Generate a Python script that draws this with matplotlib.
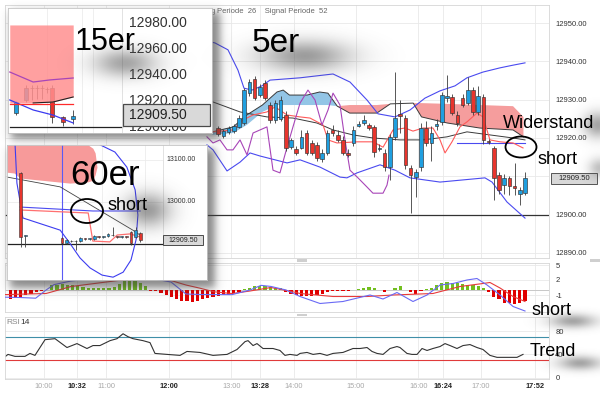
import numpy as np
import matplotlib
matplotlib.use("Agg")
import matplotlib.pyplot as plt
import matplotlib.transforms as mtrans
from matplotlib.patches import Ellipse, Rectangle

plt.rcParams['font.family'] = ['Liberation Sans', 'DejaVu Sans']

# ======================= DATA =======================
# time axis: minutes after 10:00
tick_min = [0, 32, 60, 120, 180, 208, 240, 300, 360, 384, 420, 472]
tick_lbl = ['10:00', '10:32', '11:00', '12:00', '13:00', '13:28', '14:00',
            '15:00', '16:00', '16:24', '17:00', '17:52']
tick_bold = [False, True, False, True, False, True, False, False, False, True, False, True]

# 5-minute candles (main chart), first visible candle centre = 12:47.5
c5_first = 167.5
c5_open = [12922.5, 12920.5, 12921.5, 12921.8, 12922.9, 12923.9, 12931.7, 12935.4, 12931.2, 12934.3,
           12928.6, 12924.7, 12925.0, 12926.0, 12917.6, 12917.2, 12917.4, 12921.3, 12918.7, 12918.2,
           12914.5, 12916.1, 12922.1, 12920.8, 12919.5, 12916.1, 12918.7, 12923.2, 12924.0, 12923.4,
           12922.9, 12917.1, 12916.1, 12912.4, 12920.3, 12926.3, 12925.2, 12912.2, 12909.8, 12912.4,
           12922.6, 12918.7, 12923.1, 12924.2, 12930.5, 12930.7, 12926.0, 12930.4, 12929.1, 12932.5,
           12926.8, 12930.7, 12919.2, 12917.4, 12910.3, 12907.7, 12909.6, 12907.4, 12905.3, 12905.7]
c5_high = [12923.2, 12922.3, 12923.0, 12923.6, 12926.0, 12933.0, 12935.5, 12936.2, 12934.0, 12935.0,
           12929.5, 12930.0, 12931.0, 12927.0, 12920.0, 12918.0, 12922.0, 12922.0, 12919.5, 12919.0,
           12917.0, 12922.0, 12923.5, 12922.0, 12920.5, 12917.0, 12923.0, 12924.5, 12926.0, 12924.0,
           12923.5, 12918.5, 12917.0, 12921.0, 12937.2, 12929.9, 12926.0, 12913.0, 12912.0, 12924.0,
           12924.5, 12923.0, 12925.0, 12932.0, 12936.4, 12931.5, 12927.0, 12931.5, 12935.9, 12933.3,
           12933.5, 12931.5, 12919.8, 12918.0, 12911.0, 12910.5, 12910.2, 12913.5, 12907.2, 12911.2]
c5_low = [12920.5, 12920.0, 12921.0, 12921.3, 12922.5, 12923.5, 12931.0, 12930.0, 12930.8, 12930.0,
          12924.0, 12924.0, 12924.5, 12916.5, 12917.0, 12915.5, 12917.0, 12915.5, 12915.5, 12914.0,
          12913.8, 12915.5, 12920.5, 12919.0, 12915.5, 12915.0, 12918.0, 12922.8, 12923.5, 12922.0,
          12915.0, 12916.5, 12911.5, 12909.0, 12919.5, 12921.3, 12912.0, 12900.4, 12904.6, 12911.5,
          12918.0, 12914.0, 12922.0, 12923.5, 12929.5, 12926.0, 12923.0, 12928.0, 12928.5, 12926.0,
          12926.0, 12918.5, 12918.5, 12903.8, 12905.5, 12905.5, 12905.0, 12905.0, 12902.5, 12905.0]
c5_close = [12921.0, 12921.8, 12922.5, 12923.0, 12925.2, 12932.5, 12934.6, 12930.4, 12933.3, 12930.4,
            12924.7, 12929.1, 12929.9, 12917.4, 12919.5, 12916.0, 12920.3, 12916.1, 12916.1, 12914.8,
            12916.1, 12921.3, 12921.3, 12919.5, 12916.1, 12915.6, 12922.1, 12923.6, 12924.7, 12922.6,
            12916.3, 12917.4, 12912.4, 12920.3, 12925.2, 12925.7, 12913.0, 12910.4, 12911.2, 12922.6,
            12918.7, 12921.3, 12923.7, 12931.2, 12930.9, 12926.5, 12923.9, 12928.6, 12932.5, 12926.8,
            12931.0, 12919.5, 12918.9, 12909.6, 12906.4, 12909.6, 12907.4, 12906.9, 12906.4, 12909.5]
last_price = 12909.5

# Bollinger upper / lower (blue), middle line (black)
bbu_t = [156.7, 164.4, 176.9, 186.5, 192.3, 200.0, 209.6, 217.3, 246.2, 277.9, 294.2, 310.6,
         321.2, 337.5, 351.9, 366.3, 380.8, 395.2, 406.7, 422.1, 438.5, 451.0, 462.5]
bbu_p = [12945.3, 12944.8, 12943.0, 12937.7, 12933.0, 12932.5, 12933.6, 12935.1, 12935.7, 12936.7,
         12934.6, 12929.9, 12926.3, 12925.5, 12927.3, 12930.4, 12932.3, 12933.6, 12935.7, 12937.2,
         12938.3, 12939.0, 12939.6]
bbl_t = [156.7, 162.5, 176.0, 188.5, 198.1, 207.7, 233.7, 246.2, 265.4, 284.6, 291.3, 301.0,
         323.1, 337.5, 351.9, 380.8, 424.0, 430.8, 445.2, 462.5]
bbl_p = [12918.2, 12916.9, 12911.4, 12913.7, 12916.1, 12915.3, 12913.5, 12914.3, 12912.4, 12909.8,
         12909.6, 12910.9, 12913.0, 12911.6, 12909.6, 12908.5, 12909.6, 12908.5, 12903.3, 12899.1]
mid_t = [156.7, 162.5, 188.5, 214.4, 239.4, 262.5, 277.9, 297.1, 316.3, 342.3, 364.4, 387.5,
         406.7, 428.8, 451.0, 462.5]
mid_p = [12929.9, 12929.4, 12926.8, 12925.5, 12925.2, 12923.9, 12922.1, 12920.8, 12920.0, 12919.5,
         12919.5, 12920.3, 12921.6, 12920.8, 12920.0, 12919.5]
# red line
red_t = [156.7, 162.5, 181.7, 191.3, 201.0, 214.4, 222.1, 233.7, 246.2, 255.8, 268.3, 273.1,
         281.7, 301.0, 316.3, 326.0, 335.6, 347.1, 354.8, 364.4, 374.0, 380.8, 385.6, 392.3,
         400.0, 406.7, 416.3, 422.1, 428.8, 438.5, 451.0, 460.6]
red_p = [12921.3, 12921.6, 12922.1, 12924.7, 12926.0, 12926.8, 12928.1, 12926.0, 12925.5, 12925.2,
         12923.4, 12919.5, 12918.7, 12919.0, 12919.0, 12917.6, 12922.1, 12922.6, 12921.8, 12922.6,
         12922.6, 12919.5, 12916.1, 12919.0, 12922.9, 12924.2, 12926.5, 12925.5, 12919.5, 12919.0,
         12918.7, 12917.4]
# blue level line
kij_t = [397.1, 462.5]
kij_p = [12918.7, 12918.7]
# purple line
pur_t = [156.7, 162.5, 169.2, 176.0, 181.7, 188.5, 195.2, 201.0, 207.7, 214.4, 220.2, 226.9,
         233.7, 239.4, 246.2, 253.8, 260.6, 267.3, 273.1, 277.9, 284.6, 289.4, 294.2, 301.9,
         310.6, 316.3, 326.0, 329.8, 331.7]
pur_p = [12920.3, 12918.7, 12919.5, 12916.9, 12916.9, 12919.5, 12915.6, 12921.3, 12922.1, 12922.9,
         12911.6, 12910.9, 12917.6, 12922.9, 12929.1, 12932.5, 12929.9, 12923.4, 12927.3, 12931.7,
         12928.6, 12919.5, 12911.6, 12909.6, 12907.2, 12905.6, 12905.6, 12907.7, 12910.3]
# cloud spans
span_t = [162, 182, 195, 210, 224, 230, 236, 253, 265, 273, 282, 294, 320, 333, 355, 363, 388, 419, 451, 461]
spanA = [12921.6, 12922.9, 12926.0, 12928.6, 12932.0, 12932.5, 12931.2, 12931.2, 12932.0, 12931.7,
         12928.3, 12926.5, 12926.5, 12928.9, 12929.1, 12925.5, 12923.9, 12922.6, 12922.1, 12920.3]
spanB = [12920.8, 12921.3, 12923.4, 12926.8, 12928.6, 12928.6, 12928.6, 12928.6, 12928.6, 12928.6,
         12928.3, 12928.6, 12928.6, 12928.9, 12929.1, 12929.1, 12928.9, 12928.6, 12928.3, 12925.5]

# MACD panel (5-min bars from 09:27.5)
hist_first = -32.5
hist_v = [-1.8, -1.6, -1.4, -1.07, -0.71, -0.36, -0.2, 0.1, 0.93, 1.07,
          1.2, 1.07, 0.93, 0.71, 0.64, 0.5, 0.36, 0.36, 0.36, 0.5,
          0.64, 1.2, 1.79, 1.79, 1.79, 1.43, 0.9, -0.1, -0.1, -0.5,
          -0.9, -1.4, -1.8, -2.1, -2.1, -2.36, -2.1, -1.8, -1.6, -1.4,
          -1.2, -1.07, -0.93, -0.5, -0.36, 0.2, 0.36, 0.71, 0.71, 0.71,
          0.64, 0.5, 0.36, -0.36, -0.71, -1.07, -1.2, -1.2, -1.2, -1.07,
          -0.71, -0.36, -0.2, -0.1, -0.1, -0.1, 0.1, 0.2, 0.36, 0.57,
          0.36, 0.1, -0.36, 0.1, 0.5, 0.71, 0.1, -0.36, -0.71, -0.1,
          0.2, 0.5, 1.07, 1.4, 1.64, 1.5, 1.43, 1.2, 1.07, 0.93,
          0.71, 0.36, -0.36, -1.4, -1.8, -2.5, -2.5, -2.86, -2.5, -2.1]
macd_t = [-39.0, -23.1, -8.0, 2.0, 9.6, 26.0, 44.2, 71.2, 92.3, 122.1, 136.5, 150.0, 180.8, 198.1,
          208.7, 218.3, 232.7, 246.2, 265.4, 287.5, 313.5, 325.96, 339.4, 354.8, 368.3, 380.8,
          393.3, 406.7, 416.3, 426.0, 438.5, 451.0, 462.5]
macd_v = [-1.43, -1.5, -1.64, 0.0, 1.07, 1.8, 2.2, 2.4, 2.7, 1.6, -0.8, -0.9, -0.93, 0.0,
          0.93, 0.71, 0.0, -1.3, -2.7, -2.3, -1.0, -1.8, -0.5, -2.3, -1.0, 1.0,
          1.3, 2.0, 2.3, 1.0, -1.0, -3.3, -4.2]
sig_t = [-39.0, 2.0, 26.0, 71.2, 102.0, 122.1, 136.5, 150.0, 163.5, 180.8, 198.1, 218.3, 239.4,
         246.2, 277.9, 310.6, 335.6, 374.0, 400.0, 422.1, 428.8, 438.5, 451.0, 462.5]
sig_v = [-0.93, -0.7, 0.7, 1.9, 2.4, 1.9, 1.0, 0.36, -0.36, -0.71, -0.2, 0.5, -0.36,
         -0.7, -1.3, -1.3, -1.0, -0.7, 0.7, 1.3, 1.5, 0.4, -1.3, -2.3]

# RSI 14
rsi_t = [-39.4, -34.6, -27.9, -18.3, -13.5, -8.7, 1.0, 10.6, 22.1, 31.7, 41.3, 47.1, 53.8, 63.5,
         70.2, 76.0, 80.8, 85.6, 95.2, 101.9, 106.7, 118.3, 130.8, 137.5, 150.0, 162.5, 176.0,
         185.6, 193.3, 196.2, 201.0, 204.8, 210.6, 220.2, 226.9, 231.7, 236.5, 243.3, 246.2,
         252.9, 258.7, 265.4, 272.1, 277.9, 287.5, 297.1, 303.8, 310.6, 315.4, 320.2, 326.0,
         332.7, 339.4, 342.3, 349.0, 353.8, 358.7, 363.5, 368.3, 374.0, 380.8, 385.6, 390.4,
         397.1, 402.9, 409.6, 416.3, 422.1, 428.8, 435.6, 445.2, 454.8, 460.6]
rsi_v = [33.2, 40.0, 36.6, 36.6, 41.7, 38.3, 65.5, 67.2, 51.9, 58.7, 50.2, 55.3, 55.3, 63.8,
         67.2, 75.7, 70.6, 67.2, 63.8, 60.4, 41.7, 40.0, 38.3, 45.1, 43.4, 38.3, 40.0,
         48.5, 62.1, 63.8, 55.3, 58.7, 50.2, 50.2, 46.8, 38.3, 40.0, 38.3, 41.7,
         43.4, 40.0, 41.7, 38.3, 41.7, 43.4, 50.2, 50.2, 51.9, 45.1, 41.7, 40.0,
         50.2, 53.6, 51.9, 41.7, 40.0, 40.0, 50.2, 46.8, 50.2, 53.6, 58.7, 55.3,
         50.2, 55.3, 57.0, 51.9, 48.5, 38.3, 34.9, 34.9, 34.9, 40.0]

# ---- inset "15er" (15-minute bars, bar index) ----
c15_idx = [0, 2, 3, 4, 5, 6, 7, 9, 11]
c15_open = [12910.8, 12920.8, 12930.3, 12930.3, 12930.3, 12929.5, 12930.0, 12907.7, 12906.2]
c15_high = [12920.0, 12932.3, 12932.3, 12932.3, 12932.3, 12931.0, 12932.0, 12908.5, 12913.0]
c15_low = [12909.0, 12919.2, 12920.8, 12921.5, 12921.5, 12926.0, 12903.1, 12901.0, 12902.3]
c15_close = [12919.2, 12930.0, 12929.7, 12929.7, 12929.7, 12929.0, 12907.7, 12903.8, 12908.5]
i15_line_x = [-1.2, 3.3, 6.5, 11.0]
i15_purple = [12942.3, 12934.6, 12936.2, 12937.7]
i15_blue_x = [-1.2, 3.3, 7.1, 11.0]
i15_blue = [12920.8, 12913.1, 12909.2, 12903.1]
i15_red_x = [-1.2, 11.0]
i15_red = [12917.7, 12917.7]
i15_cloud_x = [-1.2, 3.3, 7.1, 11.0]
i15_cloud_top = [12978.5, 12978.5, 12978.5, 12978.5]
i15_cloud_bot = [12918.5, 12918.5, 12919.2, 12923.1]
i15_ticks = [12980, 12960, 12940, 12920, 12900]

# ---- inset "60er" (hourly bars, bar index) ----
c60_idx = [-9, -8, 0, 1, 2, 3, 4, 5, 6, 7, 8, 9, 10, 11, 12, 13, 14, 15, 16, 17]
c60_open = [13069, 12920, 12914.3, 12902.4, 12907, 12906, 12907, 12912.5, 12912, 12912, 12917.5,
            12917, 12919, 12921.5, 12917.5, 12917, 12917.5, 12928.6, 12916.7, 12926]
c60_high = [13072, 12921, 12916, 12911, 12909, 12910, 12916, 12914, 12914, 12921, 12919,
            12919, 12926, 12940.5, 12919, 12919, 12919, 12931, 12940.5, 12929]
c60_low = [12893, 12893, 12899, 12900, 12904, 12886, 12905, 12910, 12910, 12910, 12915,
           12915, 12917, 12919, 12915, 12915, 12915, 12897.6, 12914, 12905]
c60_close = [12916.7, 12920, 12902.4, 12909.5, 12906, 12907, 12914, 12912, 12912.5, 12919, 12917,
             12917.5, 12923.8, 12921, 12917, 12917.5, 12917, 12902.4, 12933.3, 12909.5]
i60_curve_x = [-10.2, -9.8, -8.5, -0.4, 1.7, 3.9, 6.1, 8.7, 11.1, 13.3, 15.0, 16.1, 16.5, 15.9, 14.1, 11.5, 8.3]
i60_curve = [13135.7, 13045, 12962, 12933, 12902, 12867, 12843, 12826, 12821, 12833, 12862, 12910,
             12969, 13029, 13083, 13119, 13136]
i60_blue_x = [-9.1, 6.7, 17]
i60_blue = [12988, 12978.6, 12978.6]
i60_red_x = [-9.1, 5.7, 6.7, 10.4, 12, 14.8, 17]
i60_red = [12981, 12973.8, 12907, 12905, 12921.4, 12924, 12916.7]
i60_black_x = [-12, -0.4, 15.4, 17]
i60_black = [13059.5, 13036, 12933, 12921]
i60_cloud_x = [-12, -10.4, -9.1, 1.7, 5.65, 6.7, 7.2, 7.6]
i60_cloud_top = [13136, 13136, 13136, 13136, 13136, 13128, 13117, 13083]
i60_cloud_bot = [13071, 13069, 13057, 13045, 13048, 13052, 13065, 13083]
i60_ticks = [13100, 13000]

# ======================= STYLE / LAYOUT =======================
W, H = 600, 398
UP, DN = '#1f9fe0', '#e8352d'
GRID, SPINE = '#e9e9e9', '#d6d6d6'
BLUE, PURP, REDL, BLK = '#4a4af0', '#a845b8', '#ff5a5a', '#3a3a3a'

fig = plt.figure(figsize=(6.0, 3.98), dpi=100, facecolor='white')


def fbox(x0, y0, x1, y1):
    return [x0 / W, 1 - y1 / H, (x1 - x0) / W, (y1 - y0) / H]


pxT = mtrans.Affine2D().scale(1 / W, -1 / H).translate(0, 1) + fig.transFigure


def candles(a, x, o, h, l, c, width, z=3, lw=0.45, minh=0.3):
    x = np.asarray(x, float); o = np.asarray(o, float); h = np.asarray(h, float)
    l = np.asarray(l, float); c = np.asarray(c, float)
    a.vlines(x, l, h, color='#3c3c3c', lw=0.6, zorder=z)
    bot = np.minimum(o, c)
    hgt = np.maximum(np.abs(c - o), minh)
    col = np.where(c >= o, UP, DN)
    a.bar(x, hgt, width, bottom=bot, color=col, edgecolor='#333333', linewidth=lw, zorder=z + 0.1)


XL = ((5 - 44) / 1.04, (549 - 44) / 1.04)

ax = fig.add_axes(fbox(5, 5, 549, 258))
axm = fig.add_axes(fbox(5, 263, 549, 312))
axr = fig.add_axes(fbox(5, 317, 549, 379))
for a in (ax, axm, axr):
    a.set_xlim(XL)
    a.set_xticks(tick_min)
    a.grid(True, color=GRID, lw=0.6)
    a.set_axisbelow(True)
    for s in a.spines.values():
        s.set_color(SPINE); s.set_linewidth(0.6)
    a.yaxis.tick_right()
    a.tick_params(axis='both', length=0, labelsize=5.5, labelcolor='#333333')
    a.tick_params(axis='y', pad=4.5)
ax.tick_params(labelbottom=False)
axm.tick_params(labelbottom=False)

# ---------- main price panel ----------
ax.set_ylim(12950 - (258 - 23) / 3.833, 12950 + (23 - 5) / 3.833)
yt = [12890, 12900, 12910, 12920, 12930, 12940, 12950]
ax.set_yticks(yt)
ax.set_yticklabels(['' if v == 12910 else f'{v}.00' for v in yt])
ax.axhline(12900, color='#333333', lw=0.9, zorder=1.5)

A = np.array(spanA); B = np.array(spanB)
ax.fill_between(span_t, A, B, where=A >= B, interpolate=True, color='#93c5e6', lw=0, zorder=1)
ax.fill_between(span_t, A, B, where=A < B, interpolate=True, color='#f59d9d', lw=0, zorder=1)
ax.plot(span_t, A, color=BLK, lw=0.7, zorder=2)
ax.plot(bbu_t, bbu_p, color=BLUE, lw=0.8, zorder=2)
ax.plot(bbl_t, bbl_p, color=BLUE, lw=0.8, zorder=2)
ax.plot(kij_t, kij_p, color=BLUE, lw=0.8, zorder=2)
ax.plot(mid_t, mid_p, color=BLK, lw=0.7, zorder=2)
ax.plot(red_t, red_p, color=REDL, lw=0.8, zorder=2)
ax.plot(pur_t, pur_p, color=PURP, lw=0.8, zorder=2)
c5_t = c5_first + 5 * np.arange(len(c5_close))
candles(ax, c5_t, c5_open, c5_high, c5_low, c5_close, 3.6)
yTm = ax.get_yaxis_transform()
ax.add_patch(Rectangle((1.0037, last_price - 1.45), 0.0845, 2.9, transform=yTm, clip_on=False,
                       fc='#d8d8d8', ec='#555555', lw=0.7, zorder=5))
ax.text(1.046, last_price, f'{last_price:.2f}', transform=yTm, fontsize=5.5, color='#222',
        va='center', ha='center', clip_on=False, zorder=6)
ax.text(216, 11.5, 'Glättung', transform=pxT, fontsize=5.5, color='#777', ha='right', va='center')
ax.text(217, 11.5, 'Periode  26    Signal Periode  52', transform=pxT, fontsize=5.5,
        color='#666', ha='left', va='center')

# ---------- MACD panel ----------
axm.set_ylim(-4.4, 5.4)
axm.set_yticks([5, 2, -1])
axm.set_yticklabels(['5', '2', '-1'])
axm.axhline(0, color='#c8c8c8', lw=0.7, zorder=1)
hv = np.array(hist_v)
ht = hist_first + 5 * np.arange(len(hv))
axm.bar(ht, hv, 3.0, color=np.where(hv >= 0, '#72bf1e', '#e00000'), lw=0, zorder=2)
axm.plot(sig_t, sig_v, color='#e83a3a', lw=0.8, zorder=3)
axm.plot(macd_t, macd_v, color='#6a6af5', lw=0.8, zorder=3)

# ---------- RSI panel ----------
axr.set_ylim(-2.55, 104.7)
axr.set_yticks([0, 40, 80])
axr.axhline(70, color='#3f8fa8', lw=0.8)
axr.axhline(30, color='#e03a3a', lw=0.8)
axr.plot(rsi_t, rsi_v, color='#333333', lw=0.8)
axr.set_xticklabels(tick_lbl)
axr.tick_params(axis='x', pad=3, labelsize=5.3)
for lab, b in zip(axr.get_xticklabels(), tick_bold):
    lab.set_color('#222222' if b else '#a8a8a8')
    lab.set_fontweight('bold' if b else 'normal')
axr.text(0.003, 96, 'RSI', transform=axr.get_yaxis_transform(), fontsize=6, color='#888', va='center')
axr.text(0.029, 96, '14', transform=axr.get_yaxis_transform(), fontsize=6, color='#333', va='center')

# ---------- shadow layers ----------
yy, xx = np.mgrid[0:H, 0:W] + 0.5


def sig(z):
    return 1.0 / (1.0 + np.exp(-z))


def soft_rect(x0, y0, x1, y1, s):
    return (sig((xx - x0) / s) - sig((xx - x1) / s)) * (sig((yy - y0) / s) - sig((yy - y1) / s))


def blob(cx, cy, rx, ry):
    return np.exp(-0.5 * (((xx - cx) / rx) ** 2 + ((yy - cy) / ry) ** 2))


def shade(alpha, g=0.25):
    img = np.zeros((H, W, 4))
    img[..., :3] = g
    img[..., 3] = np.clip(alpha, 0, 1)
    return img


ovl = fig.add_axes([0, 0, 1, 1])
ovl.set_zorder(3)
ovl.axis('off')
low = np.maximum(0.62 * soft_rect(11, 12, 220, 139, 2.5), 0.62 * soft_rect(10, 149, 215, 288, 2.5))
ovl.imshow(shade(low), extent=(0, W, H, 0), aspect='auto', interpolation='bilinear')
for (x0, y0, w, h) in [(297, 259, 10, 2.5), (297, 313.5, 10, 2.5), (590, 259, 10, 2.5)]:
    ovl.add_patch(Rectangle((x0, y0), w, h, fc='#cfcfcf', ec='none'))
ovl.set_xlim(0, W); ovl.set_ylim(H, 0)

# ---------- inset 15er ----------
a1 = fig.add_axes(fbox(8, 8, 212, 133))
a1.set_zorder(5)
a1.set_xlim((8 - 16) / 5.2, (212 - 16) / 5.2)
a1.set_ylim(12980 - (133 - 23) / 1.3, 12980 + (23 - 8) / 1.3)
a1.set_xticks([]); a1.set_yticks([])
for s in a1.spines.values():
    s.set_color('#c4c4c4'); s.set_linewidth(0.6)
yT1 = a1.get_yaxis_transform()
for gx in (6, 12.7, 14.8):
    a1.axvline(gx, color='#ececec', lw=0.6, zorder=0)
a1.fill_between(i15_cloud_x, i15_cloud_top, i15_cloud_bot, color='#ff8f8f', alpha=0.85, lw=0, zorder=4)
a1.plot(i15_cloud_x[1:], i15_cloud_bot[1:], color='#222', lw=0.8, zorder=5)
a1.plot(i15_line_x, i15_purple, color=PURP, lw=0.9, zorder=5)
a1.plot(i15_blue_x, i15_blue, color='#3a3af0', lw=0.9, zorder=5)
a1.plot(i15_red_x, i15_red, color='#ff2a2a', lw=0.9, zorder=5)
candles(a1, c15_idx, c15_open, c15_high, c15_low, c15_close, 0.75, z=3, minh=0.6)
a1.plot([0.01, 0.559], [12900, 12900], transform=yT1, color='#222', lw=0.9)
a1.plot([0.559, 0.559], [0, 1], transform=a1.transAxes, color='#dddddd', lw=0.6)
for p in i15_ticks:
    a1.text(0.735, p, f'{p}.00', transform=yT1, fontsize=10, color='#333', ha='center', va='center')
a1.add_patch(Rectangle((0.562, last_price - 8.5), 0.43, 17, transform=yT1,
                       fc='#d9d9d9', ec='#4a4a4a', lw=0.9, zorder=6))
a1.text(0.735, last_price, f'{last_price:.2f}', transform=yT1, fontsize=10, color='#222',
        ha='center', va='center', zorder=7)

# ---------- inset 60er ----------
a2 = fig.add_axes(fbox(7, 145, 207, 280))
a2.set_zorder(5)
a2.set_xlim((7 - 62) / 4.6, (207 - 62) / 4.6)
a2.set_ylim(13000 - (280 - 202) / 0.42, 13000 + (202 - 145) / 0.42)
a2.set_xticks([]); a2.set_yticks([])
for s in a2.spines.values():
    s.set_color('#c4c4c4'); s.set_linewidth(0.6)
yT2 = a2.get_yaxis_transform()
for gx in (8.7, 18):
    a2.axvline(gx, color='#ececec', lw=0.6, zorder=0)
for p in i60_ticks:
    a2.plot([0, 0.78], [p, p], transform=yT2, color='#ececec', lw=0.6, zorder=0)
a2.fill_between(i60_cloud_x, i60_cloud_top, i60_cloud_bot, color='#f79a9a', lw=0, zorder=1)
a2.axvline(0, color='#5a5af5', lw=0.8, zorder=2)
a2.plot([0, 0.78], [12900, 12900], transform=yT2, color='#222', lw=0.9, zorder=2)
a2.plot(i60_black_x, i60_black, color='#444', lw=0.6, zorder=2)
a2.plot(i60_blue_x, i60_blue, color='#4a4af0', lw=0.8, zorder=2)
a2.plot(i60_red_x, i60_red, color='#ff7070', lw=0.9, zorder=2)
a2.plot(i60_curve_x, i60_curve, color='#3c3cf0', lw=0.8, zorder=2)
candles(a2, c60_idx, c60_open, c60_high, c60_low, c60_close, 0.6, z=3, lw=0.4, minh=1.5)
a2.plot([0.78, 0.78], [0, 1], transform=a2.transAxes, color='#dddddd', lw=0.6)
for p in i60_ticks:
    a2.text(0.87, p, f'{p}.00', transform=yT2, fontsize=5, color='#333', ha='center', va='center')
a2.add_patch(Rectangle((0.78, last_price - 11.9), 0.2, 23.8, transform=yT2,
                       fc='#d9d9d9', ec='#4a4a4a', lw=0.7, zorder=6))
a2.text(0.88, last_price, f'{last_price:.2f}', transform=yT2, fontsize=5, color='#222',
        ha='center', va='center', zorder=7)

# ---------- top overlay: text shadows and annotations ----------
ovh = fig.add_axes([0, 0, 1, 1])
ovh.set_zorder(8)
ovh.axis('off')
high = (0.5 * blob(125, 63, 22, 10) + 0.55 * blob(305, 56, 32, 11) + 0.55 * blob(148, 210, 16, 12)
        + 0.5 * blob(598, 125, 10, 9) + 0.35 * blob(600, 168, 8, 7)
        + 0.5 * blob(573, 321, 16, 5) + 0.5 * blob(580, 363, 15, 5))
ovh.imshow(shade(high, 0.3), extent=(0, W, H, 0), aspect='auto', interpolation='bilinear')
ovh.set_xlim(0, W); ovh.set_ylim(H, 0)
ovh.text(75, 50, '15er', fontsize=22, color='black', va='baseline', ha='left')
ovh.text(252, 52, '5er', fontsize=24, color='black', va='baseline', ha='left')
ovh.text(70, 185, '60er', fontsize=25, color='black', va='baseline', ha='left')
ovh.text(108, 210, 'short', fontsize=13, color='black', va='baseline', ha='left')
ovh.text(503, 128, 'Widerstand', fontsize=13, color='black', va='baseline', ha='left')
ovh.text(537, 164, 'short', fontsize=13, color='black', va='baseline', ha='left')
ovh.text(532, 315, 'short', fontsize=13, color='black', va='baseline', ha='left')
ovh.text(530, 356, 'Trend', fontsize=13, color='black', va='baseline', ha='left')
ovh.add_patch(Ellipse((521, 147), 31, 21, fill=False, ec='black', lw=1.3))
ovh.add_patch(Ellipse((87, 211), 32, 24, fill=False, ec='black', lw=1.3))

fig.savefig('out.png', dpi=100, facecolor='white')
